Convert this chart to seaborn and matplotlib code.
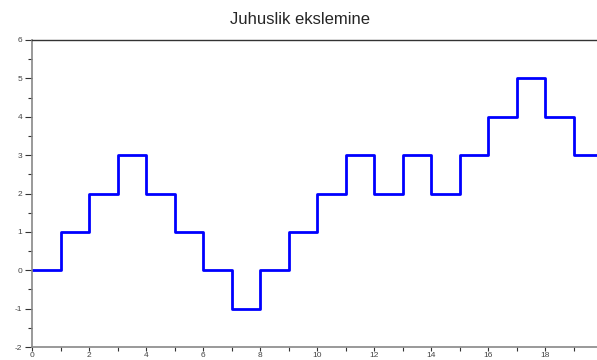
import matplotlib
matplotlib.use("Agg")
import matplotlib.pyplot as plt
import seaborn as sns
import numpy as np
import pandas as pd
from matplotlib.ticker import MultipleLocator, FixedLocator

sns.set_style("white")
plt.rcParams['font.family'] = ['Liberation Sans', 'DejaVu Sans']
plt.rcParams['axes.unicode_minus'] = False

steps = list(range(21))
positions = [0, 1, 2, 3, 2, 1, 0, -1, 0, 1, 2, 3, 2, 3, 2, 3, 4, 5, 4, 3, 3]
x_tick_values = [0, 2, 4, 6, 8, 10, 12, 14, 16, 18]
df = pd.DataFrame({"step": steps, "pos": positions})

fig = plt.figure(figsize=(5.97, 3.6), dpi=100)
ax = fig.add_axes([32/597, 13/360, 570/597, 307/360])
sns.lineplot(data=df, x="step", y="pos", ax=ax, color="#0000ff", linewidth=2.0,
             drawstyle="steps-post")
ax.set_xlim(0, 20)
ax.set_ylim(-2, 6)
ax.set_xlabel("")
ax.set_ylabel("")
ax.xaxis.set_major_locator(FixedLocator(x_tick_values))
ax.xaxis.set_minor_locator(MultipleLocator(1))
ax.yaxis.set_major_locator(MultipleLocator(1))
ax.yaxis.set_minor_locator(MultipleLocator(0.5))
ax.tick_params(axis="y", which="major", direction="out", length=5, width=0.8,
               labelsize=6, color="#333333", labelcolor="#444444", pad=2, left=True)
ax.tick_params(axis="y", which="minor", direction="out", length=3, width=0.8,
               color="#333333", left=True)
ax.tick_params(axis="x", which="both", direction="out", length=3, width=0.8,
               labelsize=6, color="#333333", labelcolor="#444444", pad=0.5, bottom=True)
for s in ["left", "bottom"]:
    ax.spines[s].set_color("#888888")
    ax.spines[s].set_linewidth(1.2)
ax.spines["top"].set_color("#333333")
ax.spines["top"].set_linewidth(1.0)
ax.spines["right"].set_visible(False)
fig.text(300/597, 1 - 19/360, "Juhuslik ekslemine", ha="center", va="center", fontsize=12)
fig.savefig("out.png", dpi=100)
